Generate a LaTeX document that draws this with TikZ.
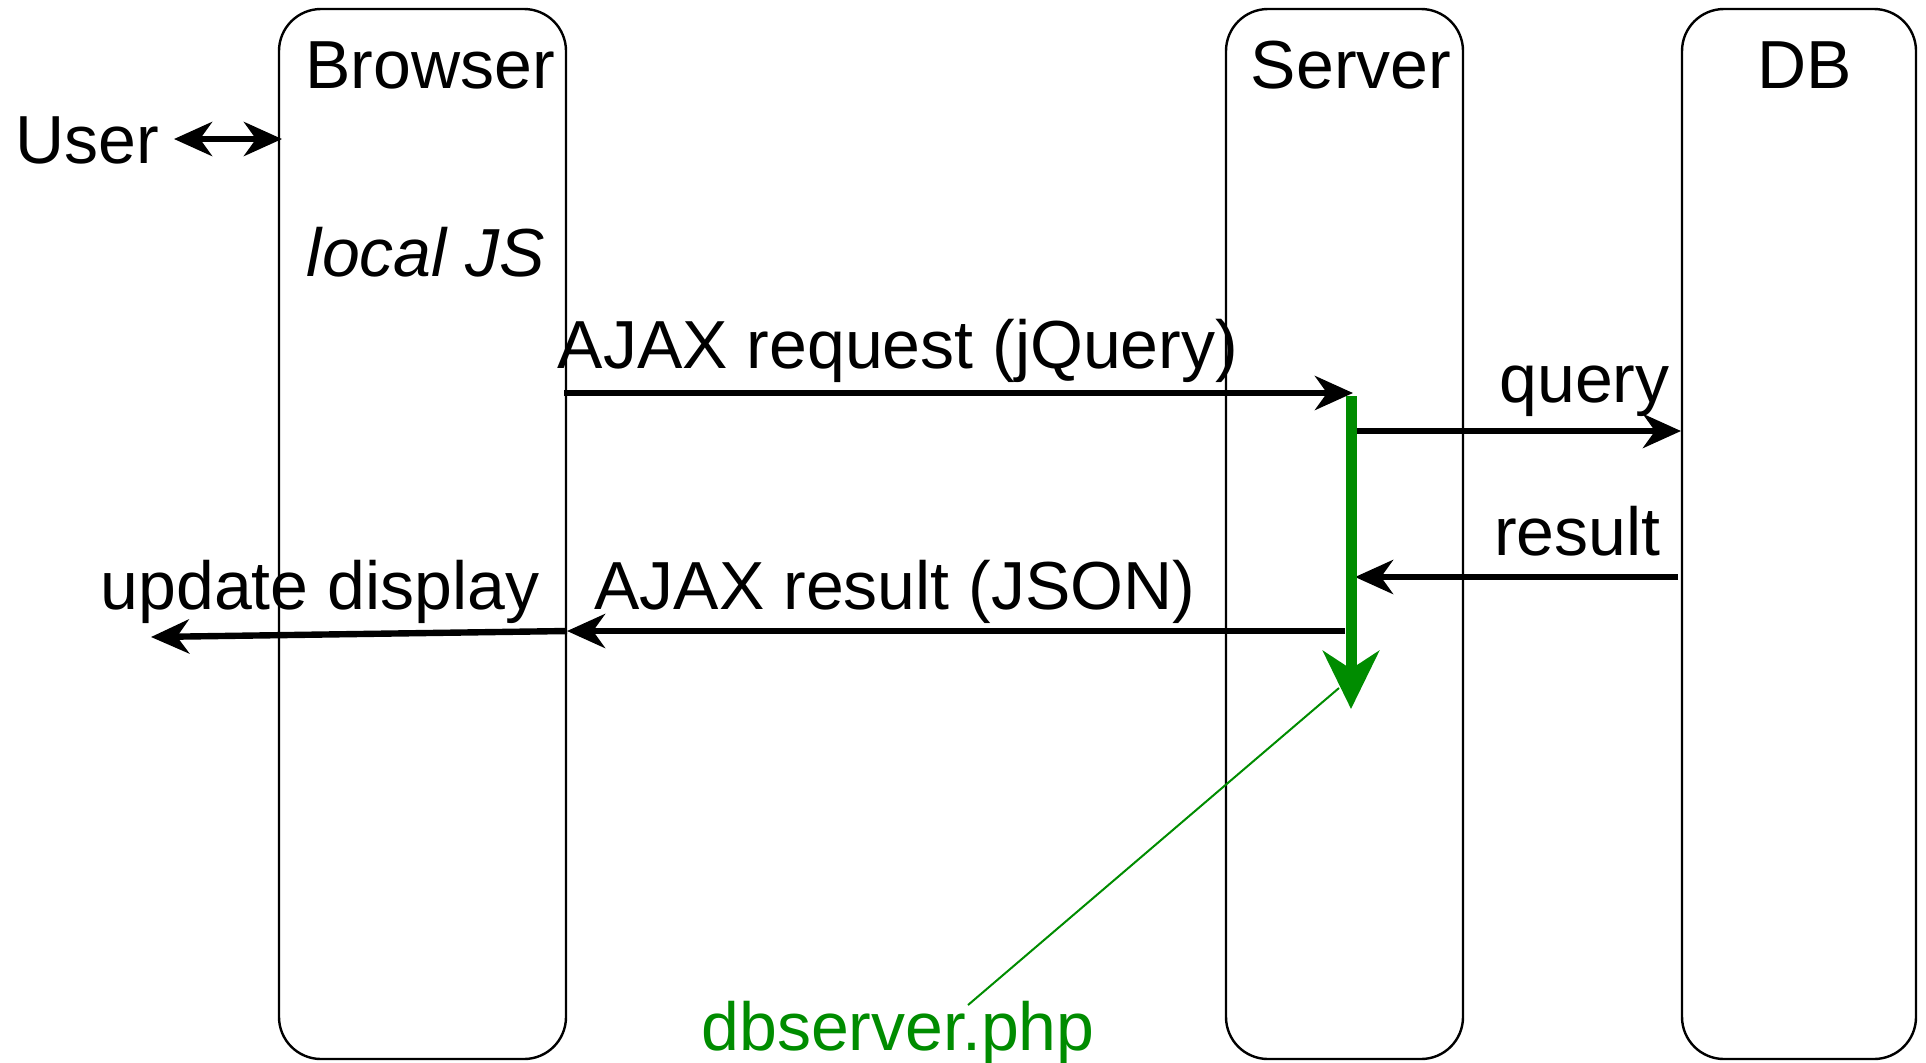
\documentclass[tikz,border=0pt]{standalone}
\usepackage{fontspec}
\setmainfont{Liberation Sans}
\usetikzlibrary{arrows.meta,positioning}
\definecolor{phpgreen}{RGB}{0,140,0}

\tikzset{
  lane/.style={draw,line width=1.2pt,rounded corners=21pt,minimum height=525pt},
  lbl/.style={inner sep=0pt,font=\fontsize{34}{40}\selectfont},
  msg/.style={line width=3.2pt,-{Stealth[length=19pt,width=17pt,inset=6pt]}},
  dmsg/.style={line width=3.2pt,{Stealth[length=19pt,width=17pt,inset=6pt]}-{Stealth[length=19pt,width=17pt,inset=6pt]}},
  run/.style={line width=5.5pt,phpgreen,-{Stealth[length=29pt,width=28pt,inset=9pt]}},
}

\begin{document}
\begin{tikzpicture}[x=0.5pt,y=-0.5pt]
    \useasboundingbox (0,0) rectangle (1926,1062);
    % swim lanes
    \path
    (422.5,534) node[lane,minimum width=143.5pt](Br){}
    (1344.5,534) node[lane,minimum width=118.5pt](Sv){}
    (1799,534) node[lane,minimum width=117pt](DB){};
    % labels
    \path
    (430,88) node[lbl,anchor=base](BrT){Browser}
    (1351,88) node[lbl,anchor=base](SvT){Server}
    (1805,88) node[lbl,anchor=base](DBT){DB}
    (15,163) node[lbl,anchor=base west](U){User}
    (426,276) node[lbl,anchor=base,font=\fontsize{34}{40}\selectfont\itshape](JS){local JS}
    (898,368) node[lbl,anchor=base](Req){AJAX request (jQuery)}
    (1670,402) node[lbl,anchor=base east](Q){query}
    (1661,555) node[lbl,anchor=base east](R){result}
    (895,609) node[lbl,anchor=base](Res){AJAX result (JSON)}
    (320,609) node[lbl,anchor=base](Upd){update display}
    (898,1050) node[lbl,anchor=base,text=phpgreen](Php){dbserver.php};
    % arrow ends
    \coordinate (u0) at (174,139);
    \coordinate (u1) at (282,139);
    \coordinate (rq0) at (564,393);
    \coordinate (top) at (1351,396);
    \coordinate (rq1) at (1353,393);
    \coordinate (bot) at (1351,709);
    \coordinate (q0) at (1356,431);
    \coordinate (q1) at (1681,431);
    \coordinate (r0) at (1678,577);
    \coordinate (r1) at (1355,577);
    \coordinate (a0) at (1345,631);
    \coordinate (a1) at (567,631);
    \coordinate (d1) at (151,637);
    \coordinate (pin) at (1339,688);
    \coordinate (php) at (968,1005);
    % messages
    \draw[dmsg] (u0) -- (u1);
    \draw[msg] (rq0) -- (rq1);
    \draw[msg] (q0) -- (q1);
    \draw[msg] (r0) -- (r1);
    \draw[msg] (a0) -- (a1);
    \draw[msg] (a1) -- (d1);
    \draw[run] (top) -- (bot);
    \draw[phpgreen,line width=1pt] (php) -- (pin);
  \end{tikzpicture}
\end{document}
